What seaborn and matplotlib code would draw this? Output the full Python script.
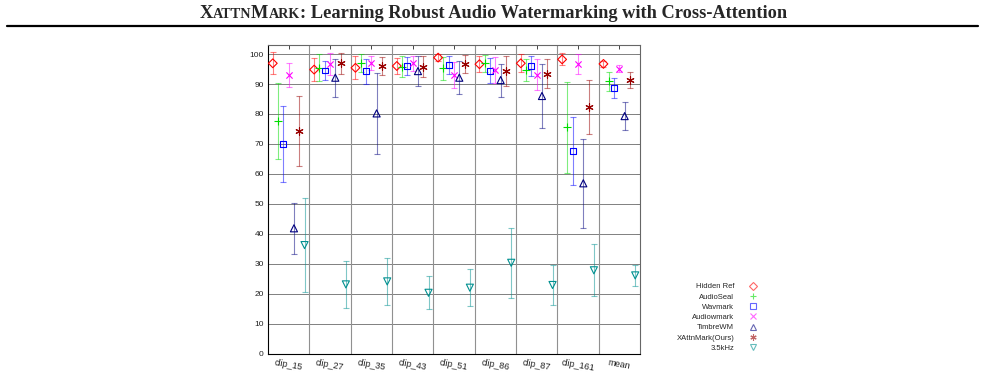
import numpy as np
import pandas as pd
import matplotlib
matplotlib.use('Agg')
import matplotlib.pyplot as plt
import seaborn as sns
from matplotlib.lines import Line2D

# Listening test scores per clip (mean and half-width of the interval)
clips = ['clip_15', 'clip_27', 'clip_35', 'clip_43', 'clip_51', 'clip_86', 'clip_87', 'clip_161', 'mean']
methods = ['Hidden Ref', 'AudioSeal', 'Wavmark', 'Audiowmark', 'TimbreWM', 'XAttnMark(Ours)', '3.5kHz']

hidden_ref = [96.9, 94.8, 95.4, 96.0, 98.8, 96.6, 96.9, 98.2, 96.7]
hidden_ref_ci = [3.7, 3.8, 3.8, 2.6, 1.1, 2.6, 3.0, 2.0, 1.1]
audioseal = [77.7, 95.4, 96.9, 95.8, 95.2, 96.9, 94.7, 75.6, 90.9]
audioseal_ci = [12.8, 4.5, 3.0, 3.5, 3.8, 2.8, 3.8, 15.2, 3.1]
wavmark = [70.0, 94.5, 94.2, 96.0, 96.3, 94.4, 96.0, 67.6, 88.7]
wavmark_ci = [12.6, 3.3, 4.3, 3.0, 3.1, 4.2, 3.3, 11.4, 3.2]
audiowmark = [93.0, 96.7, 97.0, 96.9, 93.1, 94.7, 93.1, 96.7, 95.1]
audiowmark_ci = [4.1, 3.6, 2.4, 2.4, 4.3, 4.3, 5.2, 3.4, 1.2]
timbrewm = [41.9, 92.1, 80.2, 94.3, 92.1, 91.3, 86.0, 56.9, 79.3]
timbrewm_ci = [8.6, 6.4, 13.5, 5.0, 5.5, 5.5, 10.7, 14.9, 4.7]
xattnmark = [74.3, 96.9, 96.0, 95.8, 96.7, 94.4, 93.5, 82.3, 91.3]
xattnmark_ci = [11.6, 3.4, 3.0, 3.5, 2.9, 5.0, 4.8, 9.1, 2.6]
lowpass = [36.3, 23.2, 24.2, 20.4, 22.1, 30.4, 23.0, 27.9, 26.2]
lowpass_ci = [15.7, 7.8, 7.9, 5.5, 6.1, 11.7, 6.7, 8.7, 3.4]

means = [hidden_ref, audioseal, wavmark, audiowmark, timbrewm, xattnmark, lowpass]
cis = [hidden_ref_ci, audioseal_ci, wavmark_ci, audiowmark_ci, timbrewm_ci, xattnmark_ci, lowpass_ci]

colors = ['#ff0000', '#00dd00', '#0000ff', '#ff00ff', '#00007f', '#990000', '#009090']
markers = ['D', '+', 's', 'x', '^', (6, 2, 0), 'v']
sizes = [20, 30, 18, 20, 26, 28, 26]

sns.set_style('white')
plt.rcParams['font.family'] = ['Liberation Sans', 'DejaVu Sans']

fig = plt.figure(figsize=(9.85, 3.75), dpi=100)
ax = fig.add_axes([268 / 985, 1 - 354 / 375, 372 / 985, 309 / 375])

x = np.arange(1, len(clips) + 1)
offsets = (np.arange(len(methods)) - 3) * 0.128

rows = []
for m, vals, ci in zip(methods, means, cis):
    for c, xv, v, e in zip(clips, x, vals, ci):
        rows.append({'method': m, 'clip': c, 'x': xv, 'score': v, 'ci': e})
df = pd.DataFrame(rows)

for i, m in enumerate(methods):
    d = df[df['method'] == m]
    xs = d['x'] + offsets[i]
    ax.errorbar(xs, d['score'], yerr=d['ci'], fmt='none', ecolor=colors[i],
                alpha=0.5, elinewidth=0.8, capsize=2, capthick=0.8, zorder=3)
    filled = markers[i] in ['+', 'x', (6, 2, 0)]
    sns.scatterplot(x=xs, y=d['score'], ax=ax, marker=markers[i], s=sizes[i],
                    facecolor=colors[i] if filled else 'none',
                    edgecolor=colors[i], linewidth=0.8, color=colors[i],
                    legend=False, zorder=4)

# grid: horizontal every 10, vertical between clips
for yv in range(10, 101, 10):
    ax.axhline(yv, color='#808080', lw=0.7, zorder=1)
for xv in np.arange(1.5, len(clips), 1.0):
    ax.axvline(xv, color='#909090', lw=0.8, zorder=1)

ax.set_xlim(0.5, len(clips) + 0.5)
ax.set_ylim(0, 103)
ax.set_xticks(x)
ax.set_xticklabels(clips, rotation=-10, fontsize=6.5, ha='center')
ax.set_yticks(range(0, 101, 10))
ax.set_yticklabels([str(v) for v in range(0, 101, 10)], fontsize=6)
ax.tick_params(direction='in', length=3, width=0.6, top=True, right=True, pad=3,
               labelcolor='#222222')
ax.set_xlabel('')
ax.set_ylabel('')
for s in ax.spines.values():
    s.set_color('#666666')
    s.set_linewidth(0.8)
ax.spines['bottom'].set_color('black')
ax.spines['left'].set_color('black')

handles = []
for i, m in enumerate(methods):
    filled = markers[i] in ['+', 'x', (6, 2, 0)]
    handles.append(Line2D([], [], linestyle='none', marker=markers[i], color=colors[i],
                          markerfacecolor=colors[i] if filled else 'none',
                          markersize=4.5, markeredgewidth=0.8, alpha=0.6))
fig.legend(handles, methods, loc='upper right', bbox_to_anchor=(757 / 985, 1 - 283 / 375),
           frameon=False, markerfirst=False, fontsize=5.5, labelspacing=0.38,
           handlelength=1.0, handletextpad=2.0, borderpad=0, borderaxespad=0)

# page header with small caps
serif = 'Liberation Serif'
pieces = [('X', 13.2), ('ATTN', 10.2), ('M', 13.2), ('ARK', 10.2),
          (': Learning Robust Audio Watermarking with Cross-Attention', 13.2)]
renderer = fig.canvas.get_renderer()
texts = []
xpos = 0.0
for s, fs in pieces:
    t = fig.text(xpos, 1 - 18.5 / 375, s, fontsize=fs, family=serif, weight='bold',
                 va='baseline', ha='left')
    w = t.get_window_extent(renderer).width
    texts.append((t, xpos))
    xpos += w
start = 493 - xpos / 2
for t, xp in texts:
    t.set_x((start + xp) / 985)

fig.add_artist(Line2D([7 / 985, 978 / 985], [1 - 26 / 375] * 2, color='black', lw=1.6))

fig.savefig('out.png', dpi=100)
